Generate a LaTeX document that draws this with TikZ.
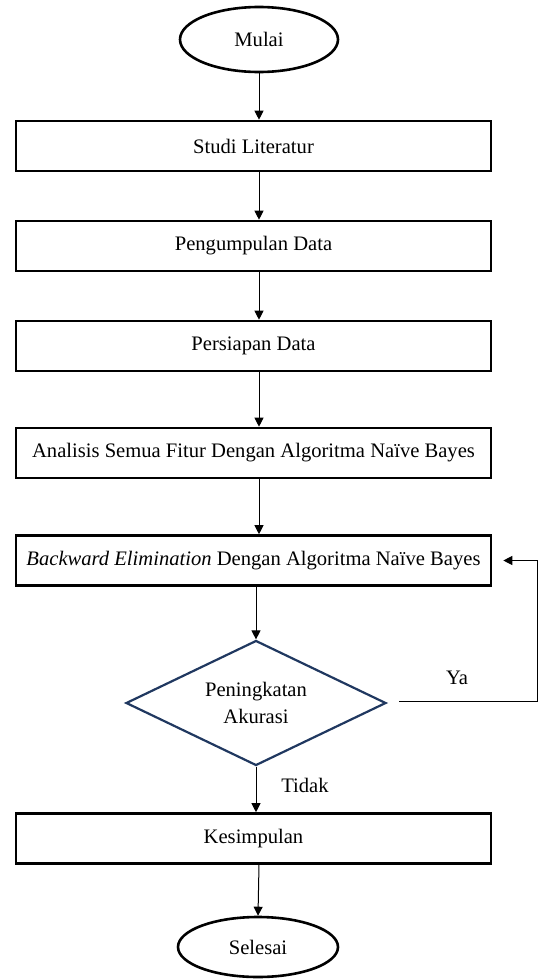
\documentclass[tikz,border=0pt]{standalone}
\usepackage{fontspec}
\setmainfont{Liberation Serif}
\usetikzlibrary{shapes.geometric,arrows.meta}
\definecolor{darkblue}{RGB}{32,56,96}
\tikzset{
  proses/.style={draw, line width=1.3pt, minimum width=237.5pt, minimum height=25pt, inner sep=0pt},
  terminal/.style={draw, ellipse, line width=1.3pt, inner sep=0pt},
  keputusan/.style={draw=darkblue, diamond, line width=1.1pt, aspect=2.08, minimum width=130pt, minimum height=62.5pt, inner sep=0pt, align=center},
  panah/.style={line width=0.5pt, -{Triangle[length=4.5pt,width=4.5pt]}}
}
\begin{document}
\begin{tikzpicture}[x=0.5pt, y=-0.5pt, font=\fontsize{10.3pt}{13.8pt}\selectfont]
        \useasboundingbox (0,0) rectangle (543,980);
        \node[terminal, minimum width=79pt, minimum height=32.5pt] (mulai) at (259,39.5) {Mulai};
        \node[proses] (studi) at (253.5,146) {Studi Literatur};
        \node[proses] (kumpul) at (253.5,246) {Pengumpulan Data};
        \node[proses] (siap) at (253.5,346) {Persiapan Data};
        \node[proses] (analisis) at (253.5,453) {Analisis Semua Fitur Dengan Algoritma Naïve Bayes};
        \node[proses] (backward) at (253.5,560.5) {\textit{Backward Elimination} Dengan Algoritma Naïve Bayes};
        \node[keputusan] (akurasi) at (256,703) {Peningkatan\\Akurasi};
        \node[proses] (simpul) at (253.5,838.5) {Kesimpulan};
        \node[terminal, minimum width=80pt, minimum height=30pt] (selesai) at (258,947) {Selesai};
        \node (ya) at (457,678) {Ya};
        \node (tidak) at (305,785) {Tidak};
        \coordinate (balik) at (537,701);
        \draw[panah] (mulai) -- (studi.north -| mulai);
        \draw[panah] (studi.south -| mulai) -- (kumpul.north -| mulai);
        \draw[panah] (kumpul.south -| mulai) -- (siap.north -| mulai);
        \draw[panah] (siap.south -| mulai) -- (analisis.north -| mulai);
        \draw[panah] (analisis.south -| mulai) -- (backward.north -| mulai);
        \draw[panah] (backward.south -| akurasi) -- (akurasi.north);
        \draw[panah] (akurasi.south) -- (simpul.north -| akurasi);
        \draw[panah] (simpul.south -| mulai) -- (selesai.north);
        \draw[panah] ([xshift=6pt,yshift=1pt]akurasi.east) -- (balik) |- ([xshift=5.5pt]backward.east);
\end{tikzpicture}
\end{document}
